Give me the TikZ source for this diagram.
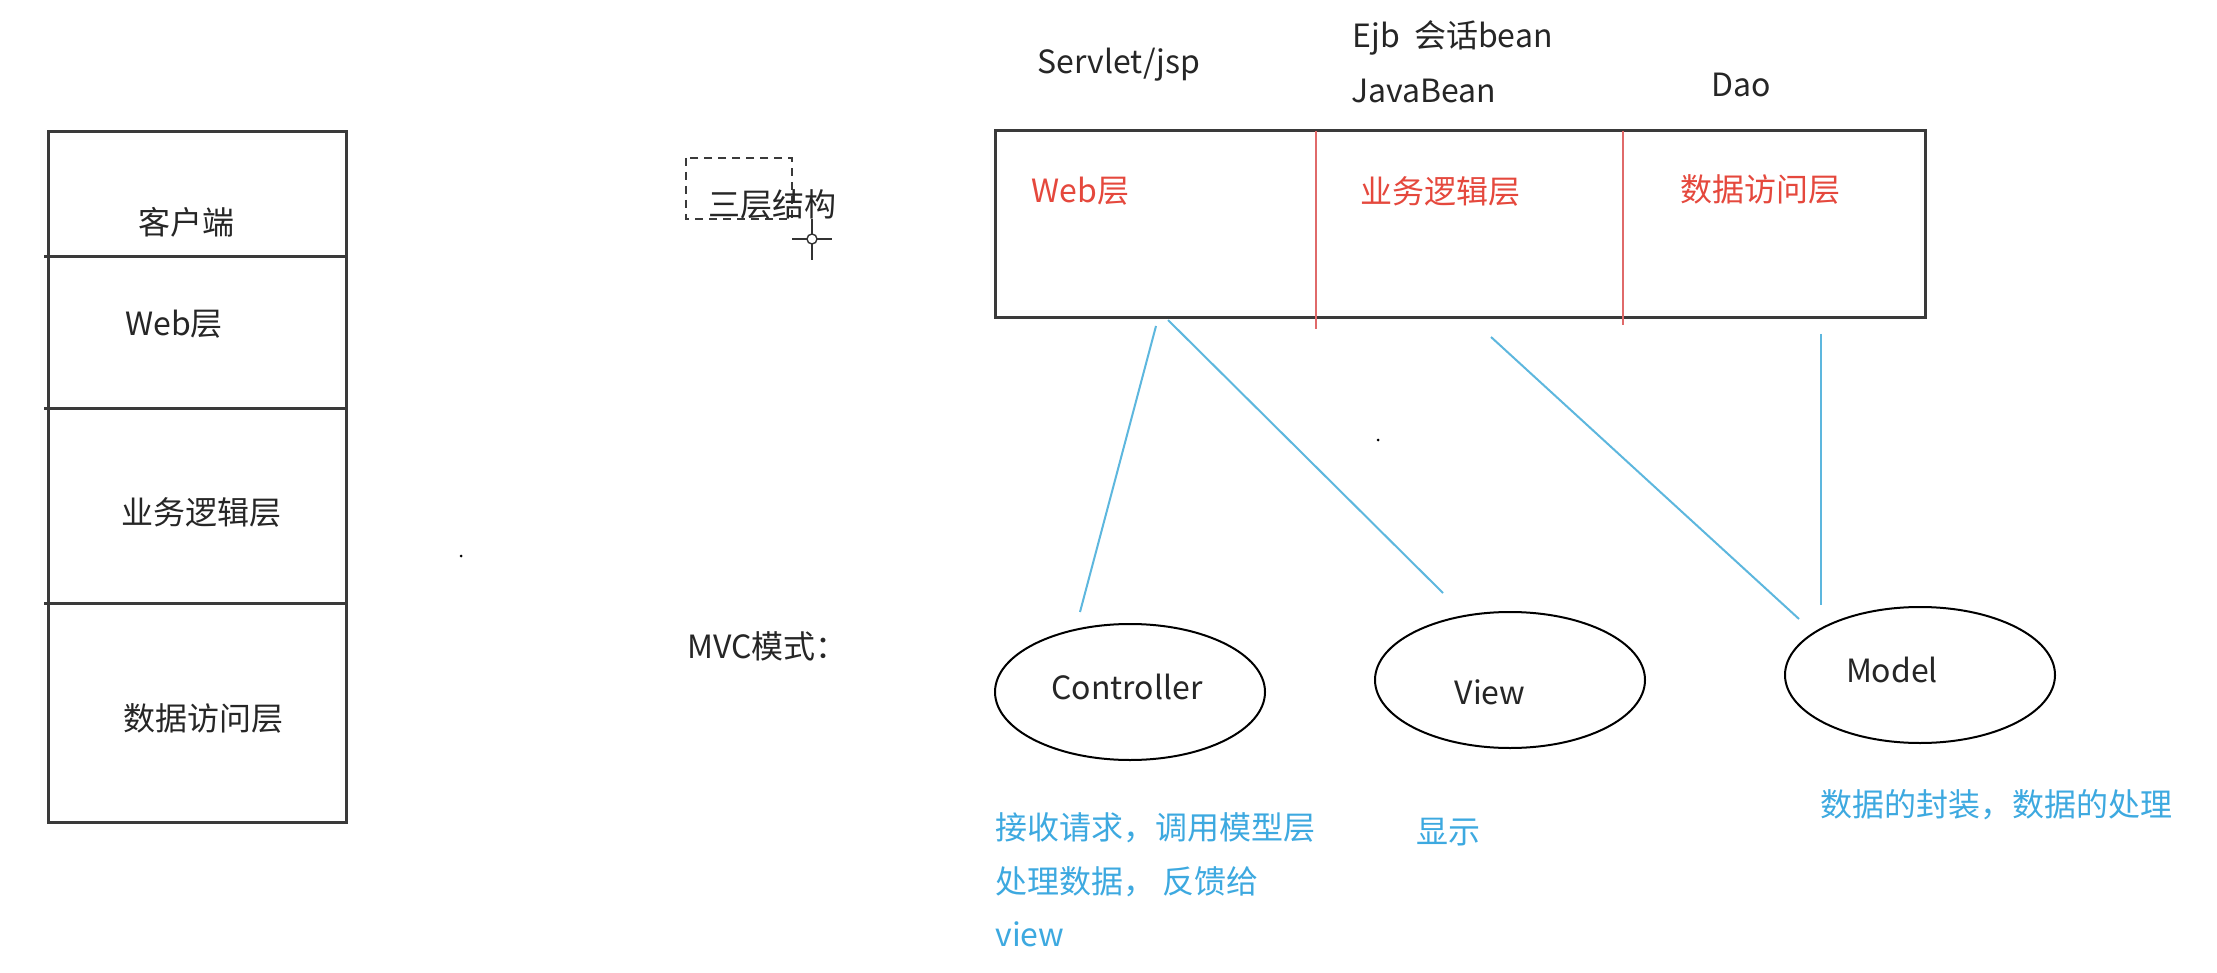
\documentclass[tikz,border=0pt]{standalone}
\usepackage{fontspec}
\newfontfamily\cjk{Noto Sans CJK SC}
\usetikzlibrary{shapes.geometric}
\definecolor{boxline}{HTML}{3A3A3A}
\definecolor{redtxt}{HTML}{E5483D}
\definecolor{redline}{HTML}{E06A6A}
\definecolor{blueline}{HTML}{5DB7DE}
\definecolor{bluetxt}{HTML}{3DA9E0}
\tikzset{
  txt/.style={font=\cjk\fontsize{16}{19}\selectfont, inner sep=0pt, text=black!85},
  redlabel/.style={txt, text=redtxt, anchor=west},
  bluelabel/.style={txt, text=bluetxt, anchor=west},
  mvc/.style={draw=black, line width=1pt, ellipse, minimum width=135pt, minimum height=68pt, inner sep=0pt},
  link/.style={draw=blueline, line width=1pt},
  divider/.style={draw=redline, line width=0.8pt},
}
\begin{document}
\begin{tikzpicture}[x=0.5pt,y=-0.5pt]
\useasboundingbox[fill=white] (0,0) rectangle (2217,973);

% left stacked box
\draw[boxline, line width=1.5pt] (48,132) rectangle (346,822);
\draw[boxline, line width=1.5pt] (44,257) -- (346,257);
\draw[boxline, line width=1.5pt] (44,408) -- (346,408);
\draw[boxline, line width=1.5pt] (44,603) -- (348,603);
\node[txt] (lclient) at (186,222) {客户端};
\node[txt] (lweb) at (174,324) {Web层};
\node[txt] (lbiz) at (201,512) {业务逻辑层};
\node[txt] (ldata) at (203,718) {数据访问层};

% three-tier label with dashed selection box
\draw[boxline, line width=1pt, dash pattern=on 4pt off 3pt] (686,158) rectangle (792,219);
\node[txt] (tier) at (772,204) {三层结构};
\draw[black!80, line width=0.7pt] (792,239) -- (807,239) (817,239) -- (832,239)
  (812,219) -- (812,234) (812,244) -- (812,260);
\draw[black!80, line width=0.7pt] (812,239) circle[radius=5];

% MVC label
\node[txt, anchor=west] (mvclbl) at (687,646) {MVC模式：};

% top tier box
\draw[boxline, line width=1.5pt] (995,131) rectangle (1925,318);
\draw[divider] (1316,131) -- (1316,329);
\draw[divider] (1623,131) -- (1623,325);
\node[redlabel] (tweb) at (1031,191) {Web层};
\node[redlabel] (tbiz) at (1360,191) {业务逻辑层};
\node[redlabel] (tdata) at (1680,189) {数据访问层};

% technology labels above
\node[txt, anchor=west] (servlet) at (1037,65) {Servlet/jsp};
\node[txt, anchor=west] (ejb) at (1352,38) {Ejb\ \ 会话bean};
\node[txt, anchor=west] (javabean) at (1351,91) {JavaBean};
\node[txt, anchor=west] (dao) at (1711,85) {Dao};

% MVC ellipses
\node[mvc] (ctrl) at (1130,692) {};
\node[mvc] (view) at (1510,680) {};
\node[mvc] (model) at (1920,675) {};
\node[txt] (ctrltxt) at (1127,687) {Controller};
\node[txt] (viewtxt) at (1490,692) {View};
\node[txt] (modeltxt) at (1892,670) {Model};

% connector end points
\coordinate (a1) at (1156,326);
\coordinate (b1) at (1080,612);
\coordinate (a2) at (1168,320);
\coordinate (b2) at (1443,593);
\coordinate (a3) at (1491,337);
\coordinate (b3) at (1799,619);
\coordinate (a4) at (1821,334);
\coordinate (b4) at (1821,605);
\draw[link] (a1) -- (b1);
\draw[link] (a2) -- (b2);
\draw[link] (a3) -- (b3);
\draw[link] (a4) -- (b4);

% blue descriptions
\node[bluelabel] (d1) at (995,828) {接收请求，调用模型层};
\node[bluelabel] (d2) at (995,882) {处理数据， 反馈给};
\node[bluelabel] (d3) at (995,934) {view};
\node[bluelabel] (d4) at (1416,832) {显示};
\node[bluelabel] (d5) at (1820,805) {数据的封装，数据的处理};

% stray dots
\fill[black] (461,556) circle[radius=1.5];
\fill[black] (1378,440) circle[radius=1.5];
\end{tikzpicture}
\end{document}
